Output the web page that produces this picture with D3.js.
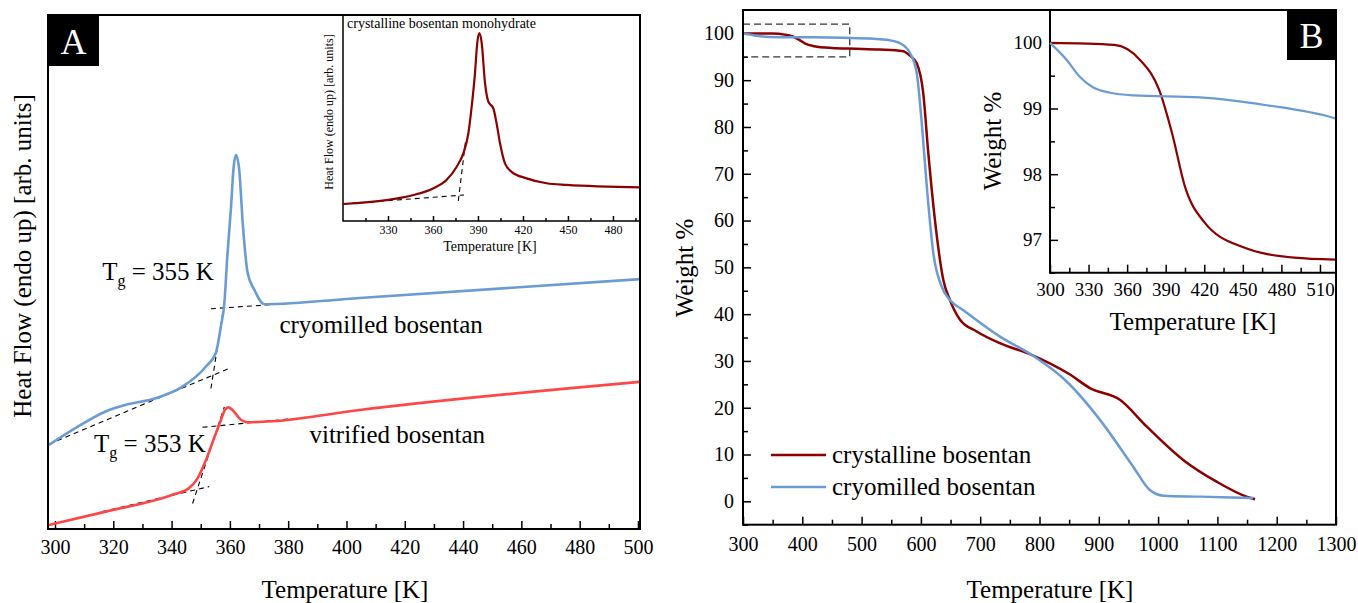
<!DOCTYPE html>
<html>
<head>
<meta charset="utf-8">
<script src="https://cdn.jsdelivr.net/npm/d3@7"></script>
<style>
  body { margin: 0; background: #fff; }
  svg text { font-family: "Liberation Serif", "Times New Roman", serif; fill: #000; }
</style>
</head>
<body>
<svg id="chart" width="1358" height="603"></svg>
<script>
// ---- panel A: DSC, heat flow in arbitrary units (0..100) ----
var cryoDscT  = [297.9, 306, 317.4, 325, 334.6, 343.6, 351.8, 355.2, 356.9, 358.1, 359.1, 360.4, 361.3, 362.1, 363.2, 364.4, 366.1, 368.4, 371.8, 404.5, 500.7];
var cryoDscHF = [15.85, 18.8, 22.4, 23.8, 25.0, 27.2, 31.2, 33.9, 39.0, 43.6, 52.6, 62.5, 70.3, 72.6, 69.7, 59.3, 49.5, 46.2, 43.4, 44.6, 48.3];
var vitDscT   = [297.9, 317.4, 340.3, 346, 348.9, 351.8, 354.6, 356.9, 358.3, 359.5, 360.9, 363.2, 366.1, 374.7, 404.5, 500.7];
var vitDscHF  = [0.2, 2.8, 6.1, 7.4, 9.3, 12.9, 17.2, 20.7, 22.7, 23.2, 22.7, 21.1, 20.3, 20.5, 22.7, 28.2];
// onset construction lines [[T1, hf1], [T2, hf2]]
var cryoTangents = [[[297.9, 16.0], [360.4, 31.0]], [[353.5, 26.9], [358.1, 43.6]], [[353.5, 42.5], [399, 44.3]]];
var vitTangents  = [[[316.3, 2.8], [352.9, 7.7]], [[347.2, 4.4], [358.1, 23.3]], [[350.6, 19.3], [390.7, 21.5]]];
var aTicks = [300, 320, 340, 360, 380, 400, 420, 440, 460, 480, 500];

// inset of A: crystalline monohydrate
var crystDscT  = [300, 329, 347, 360, 369, 375.8, 380.2, 383.6, 385.8, 388, 389.5, 390.9, 392.5, 394.7, 396.9, 400.2, 402.4, 404.7, 408, 412.4, 422.4, 435.8, 449, 498.7];
var crystDscHF = [8.3, 10.2, 12.7, 15.9, 20, 26.5, 33, 42.8, 55.8, 72, 86.7, 91.6, 86.7, 67.2, 58.2, 55, 47.7, 37.9, 28.1, 24, 20.8, 18.4, 17.6, 16.4];
var crystTangents = [[[300, 8.3], [380.7, 12.7]], [[376.9, 9.8], [381.8, 39.5]]];
var insetATicks = [330, 360, 390, 420, 450, 480];

// ---- panel B: TGA, weight % ----
var crystTgaT = [300, 350, 370, 385, 395, 405, 420, 450, 490, 530, 570, 582, 593, 604, 612.5, 623.7, 637.8, 649, 666, 694, 733, 786.6, 850, 885, 935.6, 980.6, 1042.3, 1098.6, 1149, 1163.4];
var crystTgaW = [100, 99.97, 99.74, 99.28, 98.62, 97.81, 97.27, 96.89, 96.73, 96.55, 96.2, 95.2, 93.6, 87.2, 74.4, 60.1, 47.3, 43.0, 38.8, 36.3, 33.8, 31.3, 27.2, 24.2, 21.7, 16.0, 8.85, 4.2, 1.0, 0.45];
var cryoTgaT  = [300, 313, 323.3, 333.7, 346.7, 364.8, 416.7, 468.5, 520, 545, 565, 582, 593, 601, 610, 621, 635, 649, 671, 733.4, 786.6, 845.8, 902, 958, 986, 1008.8, 1070.6, 1160];
var cryoTgaW  = [100, 99.74, 99.48, 99.32, 99.24, 99.2, 99.17, 99.05, 98.86, 98.6, 97.9, 95.7, 91.5, 81.5, 67.2, 53, 45.9, 43.0, 40.9, 35.2, 31.3, 25.6, 17.4, 7.4, 2.4, 1.2, 1.0, 0.7];
var zoomBox = [[300, 95], [480, 102]];
var bXTicks = [300, 400, 500, 600, 700, 800, 900, 1000, 1100, 1200, 1300];
var bYTicks = [0, 10, 20, 30, 40, 50, 60, 70, 80, 90, 100];
var insetBXTicks = [300, 330, 360, 390, 420, 450, 480, 510];
var insetBYTicks = [97, 98, 99, 100];
var legendLabels = ['crystalline bosentan', 'cryomilled bosentan'];

var BLUE = '#6a9bd3', RED = '#ff4646', DARK = '#8b0000';
var TITLE = 25;
var svg = d3.select('#chart');

function zipXY(xs, ys) { return xs.map(function(x, i) { return [x, ys[i]]; }); }

function drawTicks(g, axis, transform, fontSize) {
  var a = g.append('g').attr('transform', transform).call(axis);
  a.select('.domain').remove();
  a.attr('font-family', null).attr('font-size', fontSize);
  a.selectAll('line').attr('stroke', '#000').attr('stroke-width', 1.5);
  return a;
}

function curve(g, x, y, data, color, width) {
  g.append('path')
    .datum(data)
    .attr('fill', 'none')
    .attr('stroke', color)
    .attr('stroke-width', width)
    .attr('stroke-linejoin', 'round')
    .attr('d', d3.line().x(function(d) { return x(d[0]); }).y(function(d) { return y(d[1]); }).curve(d3.curveMonotoneX));
}

function dashes(g, x, y, segs, dash) {
  g.selectAll(null).data(segs).enter().append('line')
    .attr('x1', function(d) { return x(d[0][0]); })
    .attr('y1', function(d) { return y(d[0][1]); })
    .attr('x2', function(d) { return x(d[1][0]); })
    .attr('y2', function(d) { return y(d[1][1]); })
    .attr('stroke', '#000')
    .attr('stroke-width', 1.1)
    .attr('stroke-dasharray', dash);
}

function cornerTag(g, x, y, w, h, letter) {
  g.append('rect').attr('x', x).attr('y', y).attr('width', w).attr('height', h).attr('fill', '#000');
  g.append('text').attr('x', x + w / 2).attr('y', y + h - 12).attr('text-anchor', 'middle')
    .attr('font-size', 36).style('fill', '#fff').text(letter);
}

// ================= Panel A =================
var gA = svg.append('g').attr('class', 'panel-a');
var xA = d3.scaleLinear().domain([297.6, 500.7]).range([48, 640]);
var yA = d3.scaleLinear().domain([-0.6, 100]).range([529, 15]);

drawTicks(gA, d3.axisBottom(xA).tickValues(d3.range(310, 500, 20)).tickSize(-5).tickFormat(''), 'translate(0,529)', 20);
drawTicks(gA, d3.axisBottom(xA).tickValues(aTicks).tickSize(-8).tickPadding(11).tickFormat(d3.format('d')), 'translate(0,529)', 20);

dashes(gA, xA, yA, cryoTangents, '5,4');
dashes(gA, xA, yA, vitTangents, '5,4');
curve(gA, xA, yA, zipXY(cryoDscT, cryoDscHF), BLUE, 2.6);
curve(gA, xA, yA, zipXY(vitDscT, vitDscHF), RED, 2.6);

function tgLabel(T, hf, val) {
  var t = gA.append('text').attr('x', xA(T)).attr('y', yA(hf)).attr('font-size', TITLE);
  t.append('tspan').text('T');
  t.append('tspan').attr('font-size', 16).attr('dy', 6).text('g');
  t.append('tspan').attr('dy', -6).text(' = ' + val + ' K');
}
tgLabel(316.2, 48.1, 355);
tgLabel(313.4, 14.5, 353);
gA.append('text').attr('x', xA(377)).attr('y', yA(37.8)).attr('font-size', TITLE).text('cryomilled bosentan');
gA.append('text').attr('x', xA(387.3)).attr('y', yA(16.2)).attr('font-size', TITLE).text('vitrified bosentan');

// inset A
var gAi = gA.append('g').attr('class', 'inset-a');
var xAi = d3.scaleLinear().domain([300, 498.7]).range([343, 641]);
var yAi = d3.scaleLinear().domain([0, 100]).range([221, 16]);
drawTicks(gAi, d3.axisBottom(xAi).tickValues(d3.range(315, 499, 30)).tickSize(-3).tickFormat(''), 'translate(0,221)', 12);
drawTicks(gAi, d3.axisBottom(xAi).tickValues(insetATicks).tickSize(-5).tickPadding(4).tickFormat(d3.format('d')), 'translate(0,221)', 12);
gAi.append('path').attr('d', 'M343,16V221H641').attr('fill', 'none').attr('stroke', '#000').attr('stroke-width', 1.5);
dashes(gAi, xAi, yAi, crystTangents, '5,4');
curve(gAi, xAi, yAi, zipXY(crystDscT, crystDscHF), DARK, 2.2);
gAi.append('text').attr('x', 347).attr('y', 28).attr('font-size', 14).text('crystalline bosentan monohydrate');
gAi.append('text').attr('x', 490).attr('y', 251).attr('font-size', 14).attr('text-anchor', 'middle').text('Temperature [K]');
gAi.append('text').attr('transform', 'translate(333,112) rotate(-90)').attr('font-size', 12)
  .attr('text-anchor', 'middle').text('Heat Flow (endo up) [arb. units]');

// frame + titles A
gA.append('rect').attr('x', 48).attr('y', 15).attr('width', 592).attr('height', 514)
  .attr('fill', 'none').attr('stroke', '#000').attr('stroke-width', 2);
cornerTag(gA, 48, 15, 51, 51, 'A');
gA.append('text').attr('x', 345).attr('y', 598).attr('font-size', TITLE).attr('text-anchor', 'middle').text('Temperature [K]');
gA.append('text').attr('transform', 'translate(31,256) rotate(-90)').attr('font-size', TITLE)
  .attr('text-anchor', 'middle').text('Heat Flow (endo up) [arb. units]');

// ================= Panel B =================
var gB = svg.append('g').attr('class', 'panel-b');
var xB = d3.scaleLinear().domain([300, 1300]).range([743, 1336]);
var yB = d3.scaleLinear().domain([-5, 105]).range([524.7, 10]);

drawTicks(gB, d3.axisBottom(xB).tickValues(d3.range(350, 1300, 100)).tickSize(-5).tickFormat(''), 'translate(0,524.7)', 20);
drawTicks(gB, d3.axisBottom(xB).tickValues(bXTicks).tickSize(-8).tickPadding(12).tickFormat(d3.format('d')), 'translate(0,524.7)', 20);
drawTicks(gB, d3.axisLeft(yB).tickValues(d3.range(-5, 105, 10)).tickSize(-5).tickFormat(''), 'translate(743,0)', 20);
drawTicks(gB, d3.axisLeft(yB).tickValues(bYTicks).tickSize(-8).tickPadding(9).tickFormat(d3.format('d')), 'translate(743,0)', 20);

gB.append('rect')
  .attr('x', xB(zoomBox[0][0])).attr('y', yB(zoomBox[1][1]))
  .attr('width', xB(zoomBox[1][0]) - xB(zoomBox[0][0]))
  .attr('height', yB(zoomBox[0][1]) - yB(zoomBox[1][1]))
  .attr('fill', 'none').attr('stroke', '#333').attr('stroke-width', 1.3).attr('stroke-dasharray', '7,4');

curve(gB, xB, yB, zipXY(crystTgaT, crystTgaW), DARK, 2.5);
curve(gB, xB, yB, zipXY(cryoTgaT, cryoTgaW), BLUE, 2.5);

// legend
var legend = gB.selectAll('.series').data(legendLabels).enter().append('g')
  .attr('class', 'series')
  .attr('transform', function(d, i) { return 'translate(771,' + (455 + i * 32) + ')'; });
legend.append('line').attr('x1', 0).attr('x2', 55).attr('y1', 0).attr('y2', 0)
  .attr('stroke', function(d, i) { return i === 0 ? DARK : BLUE; }).attr('stroke-width', 2.5);
legend.append('text').attr('x', 61).attr('y', 8).attr('font-size', TITLE).text(function(d) { return d; });

// inset B
var gBi = gB.append('g').attr('class', 'inset-b');
var xBi = d3.scaleLinear().domain([300, 521.7]).range([1050, 1335]);
var yBi = d3.scaleLinear().domain([96.5, 100.5]).range([272.7, 10]);
drawTicks(gBi, d3.axisBottom(xBi).tickValues(d3.range(315, 521, 30)).tickSize(-5).tickFormat(''), 'translate(0,272.7)', 19);
drawTicks(gBi, d3.axisBottom(xBi).tickValues(insetBXTicks).tickSize(-8).tickPadding(10).tickFormat(d3.format('d')), 'translate(0,272.7)', 19);
drawTicks(gBi, d3.axisLeft(yBi).tickValues([96.5, 97.5, 98.5, 99.5]).tickSize(-5).tickFormat(''), 'translate(1050,0)', 19);
drawTicks(gBi, d3.axisLeft(yBi).tickValues(insetBYTicks).tickSize(-8).tickPadding(8).tickFormat(d3.format('d')), 'translate(1050,0)', 19);
gBi.append('path').attr('d', 'M1050,10V272.7H1336').attr('fill', 'none').attr('stroke', '#000').attr('stroke-width', 2);
curve(gBi, xBi, yBi, zipXY(crystTgaT.slice(0, 9).concat([521.7]), crystTgaW.slice(0, 9).concat([96.7])), DARK, 2.2);
curve(gBi, xBi, yBi, zipXY(cryoTgaT.slice(0, 9).concat([521.7]), cryoTgaW.slice(0, 9).concat([98.85])), BLUE, 2.2);
gBi.append('text').attr('x', 1193).attr('y', 330).attr('font-size', TITLE).attr('text-anchor', 'middle').text('Temperature [K]');
gBi.append('text').attr('transform', 'translate(1001,141) rotate(-90)').attr('font-size', TITLE)
  .attr('text-anchor', 'middle').text('Weight %');

// frame + titles B
gB.append('rect').attr('x', 743).attr('y', 10).attr('width', 593).attr('height', 514.7)
  .attr('fill', 'none').attr('stroke', '#000').attr('stroke-width', 2);
cornerTag(gB, 1287, 10, 49, 50, 'B');
gB.append('text').attr('x', 1050).attr('y', 598).attr('font-size', TITLE).attr('text-anchor', 'middle').text('Temperature [K]');
gB.append('text').attr('transform', 'translate(693,268) rotate(-90)').attr('font-size', TITLE)
  .attr('text-anchor', 'middle').text('Weight %');
</script>
</body>
</html>
